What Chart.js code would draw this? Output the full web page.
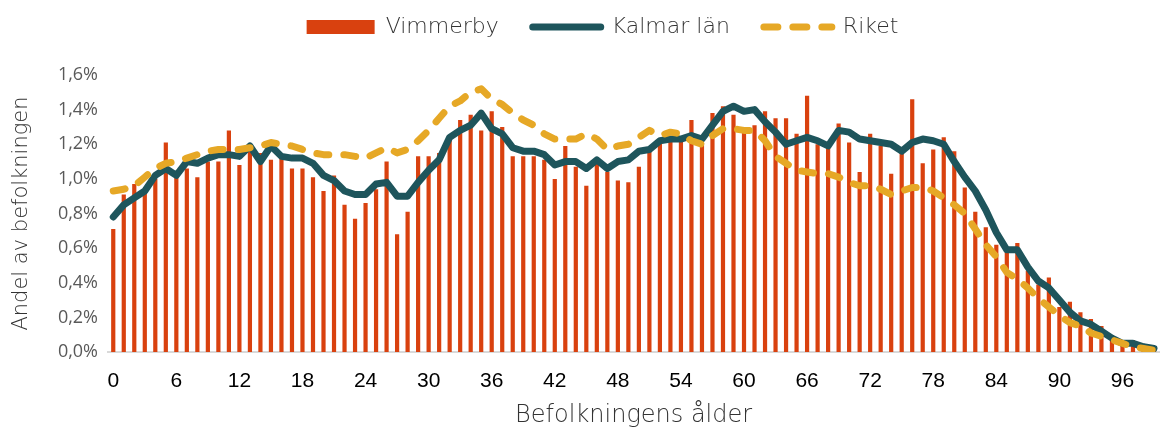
<!DOCTYPE html>
<html>
<head>
<meta charset="utf-8">
<script src="https://cdn.jsdelivr.net/npm/chart.js@4"></script>
<style>
    html, body { margin: 0; padding: 0; background: #fff; overflow: hidden; }
    #wrap { width: 1171px; height: 430px; }
</style>
</head>
<body>
<div id="wrap"><canvas id="cAge"></canvas></div>
<script>
// ages 0..99
const ages = Array.from({ length: 100 }, (_, i) => String(i));

// share of population (%) per age
const vimmerby = [
    0.71, 0.91, 0.97, 0.93, 1.00, 1.21, 1.02, 1.06, 1.01, 1.10,
    1.10, 1.28, 1.08, 1.16, 1.15, 1.11, 1.13, 1.06, 1.06, 1.01,
    0.93, 1.02, 0.85, 0.77, 0.86, 0.94, 1.10, 0.68, 0.81, 1.13,
    1.13, 1.15, 1.23, 1.34, 1.37, 1.28, 1.39, 1.30, 1.13, 1.13,
    1.13, 1.11, 1.00, 1.19, 1.07, 0.96, 1.10, 1.04, 0.99, 0.98,
    1.07, 1.16, 1.21, 1.23, 1.24, 1.34, 1.21, 1.38, 1.42, 1.37,
    1.28, 1.31, 1.39, 1.35, 1.35, 1.26, 1.48, 1.20, 1.19, 1.32,
    1.21, 1.04, 1.26, 1.19, 1.03, 1.16, 1.46, 1.09, 1.17, 1.24,
    1.16, 0.95, 0.81, 0.72, 0.62, 0.58, 0.63, 0.47, 0.39, 0.43,
    0.26, 0.29, 0.23, 0.19, 0.15, 0.09, 0.06, 0.07, 0.03, 0.01
];

const kalmar = [
    0.78, 0.85, 0.89, 0.93, 1.02, 1.06, 1.02, 1.10, 1.09, 1.12,
    1.14, 1.14, 1.13, 1.19, 1.10, 1.19, 1.13, 1.12, 1.12, 1.09,
    1.02, 0.99, 0.93, 0.91, 0.91, 0.97, 0.98, 0.90, 0.90, 0.98,
    1.05, 1.11, 1.24, 1.28, 1.31, 1.38, 1.29, 1.26, 1.18, 1.16,
    1.16, 1.14, 1.08, 1.10, 1.10, 1.06, 1.11, 1.06, 1.10, 1.11,
    1.16, 1.17, 1.22, 1.23, 1.23, 1.25, 1.23, 1.31, 1.39, 1.42,
    1.39, 1.40, 1.33, 1.27, 1.20, 1.22, 1.24, 1.22, 1.19, 1.28,
    1.27, 1.23, 1.22, 1.21, 1.20, 1.16, 1.21, 1.23, 1.22, 1.20,
    1.10, 1.01, 0.93, 0.82, 0.69, 0.59, 0.59, 0.49, 0.41, 0.37,
    0.30, 0.23, 0.18, 0.16, 0.12, 0.08, 0.05, 0.05, 0.03, 0.02
];

const riket = [
    0.93, 0.94, 0.96, 1.01, 1.06, 1.09, 1.10, 1.12, 1.14, 1.16,
    1.17, 1.17, 1.17, 1.18, 1.19, 1.21, 1.20, 1.19, 1.17, 1.15,
    1.14, 1.14, 1.14, 1.13, 1.12, 1.15, 1.18, 1.15, 1.17, 1.22,
    1.28, 1.35, 1.42, 1.45, 1.50, 1.52, 1.46, 1.43, 1.38, 1.34,
    1.31, 1.26, 1.23, 1.23, 1.23, 1.26, 1.23, 1.17, 1.19, 1.20,
    1.24, 1.28, 1.25, 1.27, 1.26, 1.22, 1.20, 1.25, 1.29, 1.29,
    1.28, 1.28, 1.22, 1.13, 1.09, 1.05, 1.04, 1.03, 1.03, 1.01,
    0.98, 0.96, 0.96, 0.94, 0.91, 0.93, 0.95, 0.95, 0.93, 0.89,
    0.85, 0.80, 0.71, 0.62, 0.55, 0.46, 0.42, 0.37, 0.31, 0.26,
    0.21, 0.17, 0.15, 0.11, 0.09, 0.07, 0.05, 0.03, 0.02, 0.01
];

const THIN = "'DejaVu Sans ExtraLight', 'DejaVu Sans'";

// legend: extra space below it, and nudge it to the right
const legendGap = {
    id: "legendGap",
    beforeInit(chart) {
        const fit = chart.legend.fit;
        chart.legend.fit = function () {
            fit.bind(chart.legend)();
            this.height += 27;
        };
    },
    afterLayout(chart) {
        chart.legend.left += 17;
        chart.legend.right += 17;
    }
};

new Chart(document.getElementById("cAge"), {
    type: "bar",
    data: {
        labels: ages,
        datasets: [
            {
                label: "Vimmerby",
                data: vimmerby,
                backgroundColor: "#D9410F",
                borderWidth: 0,
                barPercentage: 0.4,
                categoryPercentage: 1,
                pointStyle: "rect",
                order: 3
            },
            {
                type: "line",
                label: "Kalmar län",
                data: kalmar,
                borderColor: "#1E555C",
                backgroundColor: "#1E555C",
                borderWidth: 7,
                borderJoinStyle: "round",
                borderCapStyle: "round",
                pointRadius: 0,
                pointStyle: "line",
                tension: 0,
                order: 2
            },
            {
                type: "line",
                label: "Riket",
                data: riket,
                borderColor: "#E6A826",
                backgroundColor: "#E6A826",
                borderWidth: 7,
                borderDash: [12, 15],
                borderJoinStyle: "round",
                borderCapStyle: "round",
                pointRadius: 0,
                pointStyle: "line",
                tension: 0,
                order: 1
            }
        ]
    },
    options: {
        responsive: true,
        maintainAspectRatio: false,
        animation: false,
        layout: { padding: { top: -18, right: 0, left: 0, bottom: 0 } },
        plugins: {
            legend: {
                position: "top",
                labels: {
                    usePointStyle: true,
                    pointStyleWidth: 68,
                    boxHeight: 14,
                    padding: 34,
                    color: "#333",
                    font: { family: THIN, size: 22, weight: "200" },
                    sort: (a, b) => a.datasetIndex - b.datasetIndex,
                    generateLabels: chart => {
                        const items = Chart.defaults.plugins.legend.labels.generateLabels(chart);
                        items.forEach(it => {
                            it.lineCap = "round";
                            if (it.datasetIndex === 2) it.lineDash = [14, 15];
                        });
                        return items;
                    }
                }
            },
            tooltip: { enabled: false }
        },
        scales: {
            x: {
                grid: { display: false, drawTicks: false },
                border: { display: true, color: "#D9D9D9", width: 2 },
                ticks: {
                    autoSkip: false,
                    maxRotation: 0,
                    padding: 17,
                    color: "#000",
                    font: { family: "'Liberation Sans'", size: 21 },
                    callback: (v, i) => (i % 6 === 0 ? ages[i] : "")
                },
                title: {
                    display: true,
                    text: "Befolkningens ålder",
                    color: "#333",
                    font: { family: THIN, size: 24, weight: "200" },
                    padding: { top: 2, bottom: 0 }
                },
                afterFit: scale => { scale.height = 78; }
            },
            y: {
                min: 0,
                max: 1.6,
                grid: { display: false, drawTicks: false },
                border: { display: false },
                ticks: {
                    stepSize: 0.2,
                    padding: 10,
                    color: "#595959",
                    font: { family: "'Open Sans'", size: 18 },
                    callback: v => v.toFixed(1).replace(".", ",") + "%"
                },
                title: {
                    display: true,
                    text: "Andel av befolkningen",
                    color: "#333",
                    font: { family: THIN, size: 21, weight: "200" },
                    padding: { top: 9, bottom: 0 }
                },
                afterFit: scale => { scale.width = 108; }
            }
        }
    },
    plugins: [legendGap]
});
</script>
</body>
</html>
